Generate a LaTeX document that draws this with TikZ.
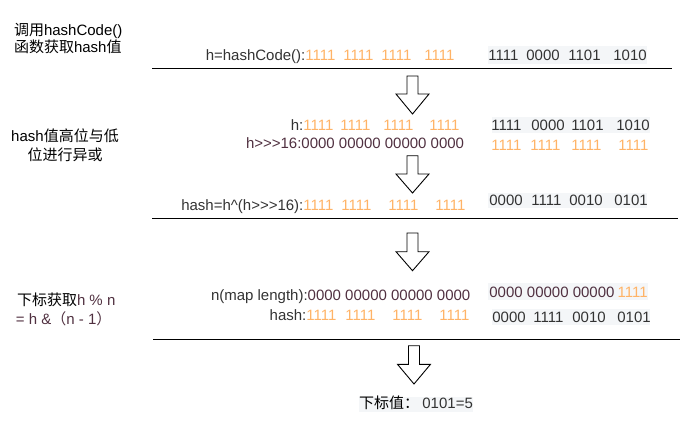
\documentclass[tikz,border=0pt]{standalone}
\usepackage{fontspec}
\setmainfont{Liberation Sans}
\newfontfamily\cjk{Noto Sans CJK SC}
\definecolor{orng}{RGB}{255,179,102}
\definecolor{dk}{RGB}{51,51,51}
\definecolor{purp}{RGB}{80,48,64}
\definecolor{boxbg}{RGB}{244,246,248}
\newcommand\blkarrow[4]{\draw[blockarr] (#1-5.5,#2) -- (#1+5.5,#2) -- (#1+5.5,#3) -- (#1+16.5,#3) -- (#1,#4) -- (#1-16.5,#3) -- (#1-5.5,#3) -- cycle;}
\newcommand\gtt{>\kern0pt>\kern0pt>}
\begin{document}
\begin{tikzpicture}[x=1pt,y=-1pt,
  every node/.style={inner sep=0pt, outer sep=0pt, font=\fontsize{15}{18}\selectfont},
  txt/.style={anchor=base west, text=dk},
  txte/.style={anchor=base east, text=dk},
  org/.style={anchor=base west, text=orng},
  pur/.style={anchor=base west, text=purp},
  lbl/.style={anchor=base west, text=black},
  lblc/.style={anchor=base, text=black},
  bgbox/.style={fill=boxbg, draw=none},
  blockarr/.style={draw=black, fill=white, line width=0.9pt, line join=miter},
  sepline/.style={draw=black, line width=1pt}]
\useasboundingbox (0,0) rectangle (693,426);

% background boxes
\node[bgbox, minimum width=159pt, minimum height=18pt] (bx1) at (567.5,55) {};
\node[bgbox, minimum width=158pt, minimum height=16pt] (bx2) at (571,125) {};
\node[bgbox, minimum width=159pt, minimum height=15pt] (bx3) at (567.5,200.5) {};
\node[bgbox, minimum width=160pt, minimum height=17pt] (bx4) at (568,291.5) {};
\node[bgbox, minimum width=158pt, minimum height=16pt] (bx5) at (571,317) {};
\node[bgbox, minimum width=114pt, minimum height=15pt] (bx6) at (416,404.5) {};

% separator lines
\draw[sepline] (152,68) -- (672,68);
\draw[sepline] (152,218) -- (678,218);
\draw[sepline] (153,339) -- (680,339);

% block arrows
\blkarrow{412.5}{76}{94}{114}
\blkarrow{412.5}{155.7}{174}{193}
\blkarrow{412.5}{233}{251.7}{270.7}
\blkarrow{414}{345.7}{364.3}{384}

% left labels
\node[lbl] (l1a) at (14,35) {{\cjk 调用}hashCode()};
\node[lbl] (l1b) at (14,52) {{\cjk 函数获取}hash{\cjk 值}};
\node[lblc] (l2a) at (65,141.7) {hash{\cjk 值高位与低}};
\node[lblc] (l2b) at (65,160.7) {\cjk 位进行异或};
\node[lbl] (l4a) at (17,305) {{\cjk 下标获取}\textcolor{purp}{h \% n}};
\node[pur] (l4b) at (16,324) {= h \&{\cjk （}n - 1{\cjk ）}};

% row 1
\node[txte] (r1lab) at (305.4,60.5) {h=hashCode():};
\node[org] (r1o1) at (305.4,60.5) {1111};
\node[org] (r1o2) at (343.4,60.5) {1111};
\node[org] (r1o3) at (381.4,60.5) {1111};
\node[org] (r1o4) at (424.4,60.5) {1111};
\node[txt] (r1b1) at (488.4,60.5) {1111};
\node[txt] (r1b2) at (526.4,60.5) {0000};
\node[txt] (r1b3) at (568.4,60.5) {1101};
\node[txt] (r1b4) at (613.4,60.5) {1010};

% row 2
\node[txte] (r2lab) at (303.4,130.5) {h:};
\node[org] (r2o1) at (303.4,130.5) {1111};
\node[org] (r2o2) at (340.4,130.5) {1111};
\node[org] (r2o3) at (383.4,130.5) {1111};
\node[org] (r2o4) at (429.4,130.5) {1111};
\node[txt] (r2b1) at (491.4,130.5) {1111};
\node[txt] (r2b2) at (531.4,130.5) {0000};
\node[txt] (r2b3) at (571.4,130.5) {1101};
\node[txt] (r2b4) at (616.4,130.5) {1010};
\node[pur] (r2s) at (246,148.5) {h\gtt16:0000 00000 00000 0000};
\node[org] (r2p1) at (491.4,150.5) {1111};
\node[org] (r2p2) at (530.4,150.5) {1111};
\node[org] (r2p3) at (571.4,150.5) {1111};
\node[org] (r2p4) at (618.4,150.5) {1111};

% row 3
\node[txte] (r3lab) at (303.4,210) {hash=h\textasciicircum(h\gtt16):};
\node[org] (r3o1) at (303.4,210) {1111};
\node[org] (r3o2) at (341.4,210) {1111};
\node[org] (r3o3) at (388.4,210) {1111};
\node[org] (r3o4) at (435.4,210) {1111};
\node[txt] (r3b1) at (489.4,205.7) {0000};
\node[txt] (r3b2) at (531.4,205.7) {1111};
\node[txt] (r3b3) at (569.4,205.7) {0010};
\node[txt] (r3b4) at (614.4,205.7) {0101};

% row 4
\node[txt] (r4n) at (211,300.5) {n(map length):\textcolor{purp}{0000 00000 00000 0000}};
\node[pur] (r4m1) at (489.4,297.3) {0000 00000 00000};
\node[org] (r4m2) at (617.7,297.3) {1111};
\node[txte] (r4lab) at (306.4,320.5) {hash:};
\node[org] (r4o1) at (306.4,320.5) {1111};
\node[org] (r4o2) at (345.4,320.5) {1111};
\node[org] (r4o3) at (392.4,320.5) {1111};
\node[org] (r4o4) at (439.4,320.5) {1111};
\node[txt] (r4b1) at (492.4,322) {0000};
\node[txt] (r4b2) at (533.4,322) {1111};
\node[txt] (r4b3) at (572.4,322) {0010};
\node[txt] (r4b4) at (617.4,322) {0101};

% row 5
\node[lbl] (r5a) at (359,408.3) {\cjk 下标值：};
\node[txt] (r5b) at (422.4,408.3) {0101=5};
\end{tikzpicture}
\end{document}
